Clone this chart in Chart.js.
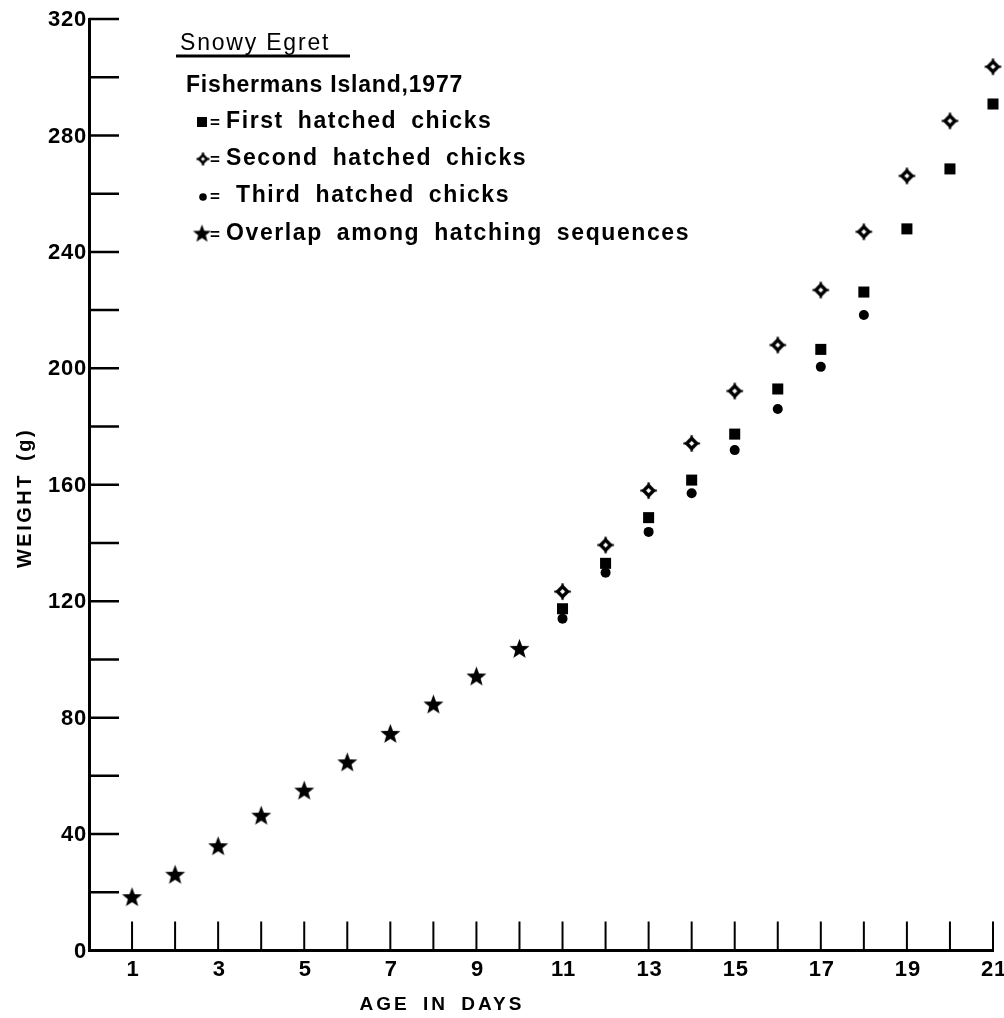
<!DOCTYPE html>
<html><head><meta charset="utf-8">
<script src="https://cdn.jsdelivr.net/npm/chart.js@4.4.0/dist/chart.umd.min.js"></script>
<style>html,body{margin:0;padding:0;background:#fff}canvas{display:block}</style>
</head><body>
<canvas id="c" width="1004" height="1018"></canvas>
<script>
// ---- data ----
const days = [1,2,3,4,5,6,7,8,9,10,11,12,13,14,15,16,17,18,19,20,21];
const overlapDays = [1,2,3,4,5,6,7,8,9,10];
const overlapWeights = [18.5,26.2,36.0,46.5,55.1,64.8,74.6,84.7,94.3,103.8];
const firstDays = [11,12,13,14,15,16,17,18,19,20,21];
const firstWeights = [117.4,133.0,148.7,161.6,177.4,192.9,206.5,226.2,247.9,268.5,290.8];
const secondDays = [11,12,13,14,15,16,17,18,19,20,21];
const secondWeights = [123.3,139.3,158.0,174.2,192.2,208.0,226.9,246.9,266.1,285.0,303.6];
const thirdDays = [11,12,13,14,15,16,17,18];
const thirdWeights = [114.0,129.8,143.8,157.1,171.9,186.0,200.5,218.3];
const yTickValues = [0,20,40,60,80,100,120,140,160,180,200,220,240,260,280,300,320];
const yTickLabels = ['0','40','80','120','160','200','240','280','320'];
const xTickLabels = ['1','3','5','7','9','11','13','15','17','19','21'];
const xTitle = 'AGE IN DAYS';
const yTitle = 'WEIGHT (g)';
const legendTitle = 'Snowy Egret';
const legendSubtitle = 'Fishermans Island,1977';
const legendLabels = ['First hatched chicks','Second hatched chicks','Third hatched chicks','Overlap among hatching sequences'];

// ---- marker images ----
function makeStar(R){
  const c=document.createElement('canvas'); const s=Math.ceil(R*2+2); c.width=s; c.height=s;
  const g=c.getContext('2d'); g.fillStyle='#000'; g.beginPath();
  const cx=s/2, cy=s/2+R*0.1, r=R*0.42;
  for(let i=0;i<10;i++){const a=-Math.PI/2+i*Math.PI/5; const rr=i%2?r:R; const px=cx+rr*Math.cos(a), py=cy+rr*Math.sin(a); i?g.lineTo(px,py):g.moveTo(px,py);}
  g.closePath(); g.fill(); return c;
}
function makeDiamond(R,lw){
  const c=document.createElement('canvas'); const s=Math.ceil(R*2+4); c.width=s; c.height=s;
  const g=c.getContext('2d'); const cx=s/2, cy=s/2; const d=R*0.6;
  g.fillStyle='#fff'; g.strokeStyle='#000'; g.lineWidth=lw;
  g.beginPath(); g.moveTo(cx,cy-d); g.lineTo(cx+d,cy); g.lineTo(cx,cy+d); g.lineTo(cx-d,cy); g.closePath(); g.fill(); g.stroke();
  g.lineWidth=2.2; g.beginPath();
  g.moveTo(cx,cy-d); g.lineTo(cx,cy-R); g.moveTo(cx,cy+d); g.lineTo(cx,cy+R);
  g.moveTo(cx-d,cy); g.lineTo(cx-R,cy); g.moveTo(cx+d,cy); g.lineTo(cx+R,cy); g.stroke();
  return c;
}
const starImg = makeStar(10.5);
const diamondImg = makeDiamond(8.3,3.4);
const starSmall = makeStar(9.5);
const diamondSmall = makeDiamond(6.5,2.6);

const FONT = '"Liberation Sans", Arial, sans-serif';
function txt(ctx,s,x,y,size,weight,align,base,ls,ws){
  ctx.font = weight+' '+size+'px '+FONT; ctx.textAlign=align; ctx.textBaseline=base;
  ctx.letterSpacing=(ls||0)+'px'; ctx.wordSpacing=(ws||0)+'px'; ctx.fillStyle='#000'; ctx.fillText(s,x,y);
  ctx.letterSpacing='0px'; ctx.wordSpacing='0px';
}

const decor = {
  id:'decor',
  beforeDatasetsDraw(chart){
    const {ctx, chartArea:a, scales:{x,y}} = chart;
    ctx.save(); ctx.strokeStyle='#000';
    ctx.lineWidth=2.5; ctx.beginPath();
    yTickValues.forEach(v=>{const py=y.getPixelForValue(v); ctx.moveTo(a.left,py); ctx.lineTo(a.left+30,py);});
    ctx.stroke();
    ctx.lineWidth=2; ctx.beginPath();
    days.forEach(d=>{const px=x.getPixelForValue(d); ctx.moveTo(px,a.bottom); ctx.lineTo(px,a.bottom-29);});
    ctx.stroke();
    yTickLabels.forEach(l=>{txt(ctx,l,a.left-2,y.getPixelForValue(+l)+1,22,'bold','right','middle',0.8);});
    xTickLabels.forEach(l=>{txt(ctx,l,x.getPixelForValue(+l)+1,a.bottom+8,22,'bold','center','top',0.8);});
    txt(ctx,xTitle,442,1005,19,'bold','center','middle',3,5);
    ctx.save(); ctx.translate(25,498); ctx.rotate(-Math.PI/2);
    txt(ctx,yTitle,0,0,20,'bold','center','middle',2.5,4); ctx.restore();
    // legend block
    txt(ctx,legendTitle,180,44,23,'normal','left','middle',1.8);
    ctx.lineWidth=3.2; ctx.beginPath(); ctx.moveTo(176,56); ctx.lineTo(350,56); ctx.stroke();
    txt(ctx,legendSubtitle,186,86,23,'bold','left','middle',0.8);
    const rows=[122,159,196,234];
    rows.forEach((ry,i)=>{
      txt(ctx,'=',215,ry+1,17,'bold','center','middle',0);
      txt(ctx,legendLabels[i],i===2?236:226,ry,23,'bold','left','middle',1.6,6);
    });
    ctx.fillStyle='#000'; ctx.fillRect(197,117,10,10);
    ctx.drawImage(diamondSmall,203-diamondSmall.width/2,159-diamondSmall.height/2);
    ctx.beginPath(); ctx.arc(203,197,3.8,0,Math.PI*2); ctx.fill();
    ctx.drawImage(starSmall,202-starSmall.width/2,233-starSmall.height/2);
    ctx.restore();
  }
};

const pts=(xs,ys)=>xs.map((d,i)=>({x:d,y:ys[i]}));
new Chart(document.getElementById('c'),{
  type:'scatter',
  data:{datasets:[
    {label:legendLabels[3],data:pts(overlapDays,overlapWeights),pointStyle:starImg,pointRadius:10,clip:false},
    {label:legendLabels[0],data:pts(firstDays,firstWeights),pointStyle:'rect',pointRadius:7.8,backgroundColor:'#000',borderColor:'#000',borderWidth:0,clip:false},
    {label:legendLabels[1],data:pts(secondDays,secondWeights),pointStyle:diamondImg,pointRadius:8,clip:false},
    {label:legendLabels[2],data:pts(thirdDays,thirdWeights),pointStyle:'circle',pointRadius:5,backgroundColor:'#000',borderColor:'#000',borderWidth:0,clip:false}
  ]},
  options:{
    responsive:false, animation:false, devicePixelRatio:1, events:[],
    layout:{padding:{left:89,right:11,top:19,bottom:67.5}},
    plugins:{legend:{display:false},tooltip:{enabled:false},title:{display:false}},
    scales:{
      x:{type:'linear',min:0,max:21,ticks:{display:false},grid:{display:false,drawTicks:false},border:{display:true,color:'#000',width:3}},
      y:{type:'linear',min:0,max:320,ticks:{display:false},grid:{display:false,drawTicks:false},border:{display:true,color:'#000',width:3}}
    }
  },
  plugins:[decor]
});
</script>
</body></html>
